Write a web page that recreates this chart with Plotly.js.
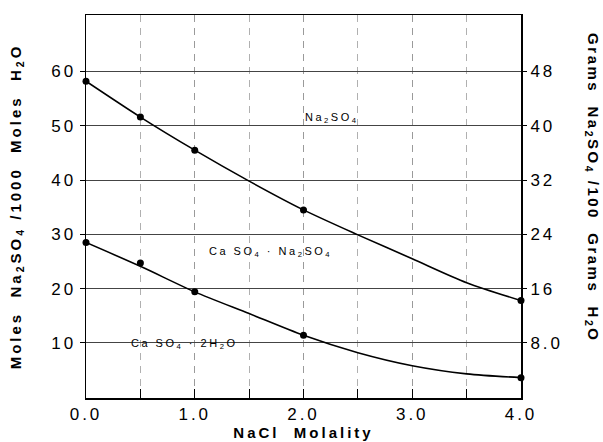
<!DOCTYPE html>
<html>
<head>
<meta charset="utf-8">
<script src="https://cdn.plot.ly/plotly-3.0.1.min.js"></script>
<style>
  html, body { margin: 0; padding: 0; background: #fff; }
  #chart { width: 603px; height: 442px; }
  .xtick text, .ytick text, .y2tick text { letter-spacing: 3px; }
  .xtitle, .ytitle { letter-spacing: 3px; }
  .annotation-text { letter-spacing: 2.5px; }
</style>
</head>
<body>
<div id="chart"></div>
<script>
// NaCl molality of measured points
const nacl = [0, 0.5, 1.0, 2.0, 4.0];
// Measured solubility points (moles Na2SO4 / 1000 moles H2O)
const na2so4Boundary = [58.2, 51.6, 45.5, 34.5, 17.8];
const gypsumBoundary = [28.5, 24.7, 19.4, 11.4, 3.6];
// Drawn curves
const curveX = [0, 0.5, 1.0, 1.5, 2.0, 2.5, 3.0, 3.5, 4.0];
const upperCurve = [58.2, 51.6, 45.5, 39.8, 34.5, 29.9, 25.5, 21.1, 17.8];
const lowerCurve = [28.5, 24.1, 19.4, 15.4, 11.4, 8.2, 5.8, 4.3, 3.6];
// Tick labels
const xTickVals = [0, 1, 2, 3, 4];
const xTickText = ['0.0', '1.0', '2.0', '3.0', '4.0'];
const yTickVals = [10, 20, 30, 40, 50, 60];
const yTickText = ['10', '20', '30', '40', '50', '60'];
const y2TickVals = [8, 16, 24, 32, 40, 48];
const y2TickText = ['8.0', '16', '24', '32', '40', '48'];
// Field labels
const fieldLabels = ['Na<sub>2</sub>SO<sub>4</sub>', 'Ca SO<sub>4</sub> · Na<sub>2</sub>SO<sub>4</sub>', 'Ca SO<sub>4</sub> · 2H<sub>2</sub>O'];
const fieldX = [2.262, 1.70, 0.90];
const fieldY = [51.4, 26.7, 9.8];

const FONT = 'Liberation Sans, Arial, sans-serif';
const lineStyle = {color: '#000', width: 1.6, shape: 'spline', smoothing: 0.8};
const markerStyle = {color: '#000', size: 7};

const traces = [
  {x: curveX, y: upperCurve, mode: 'lines', line: lineStyle, hoverinfo: 'skip', showlegend: false},
  {x: curveX, y: lowerCurve, mode: 'lines', line: lineStyle, hoverinfo: 'skip', showlegend: false},
  {x: nacl, y: na2so4Boundary, mode: 'markers', marker: markerStyle, cliponaxis: false, showlegend: false},
  {x: nacl, y: gypsumBoundary, mode: 'markers', marker: markerStyle, cliponaxis: false, showlegend: false},
  {x: [0], y: [0], yaxis: 'y2', mode: 'markers', marker: {opacity: 0}, hoverinfo: 'skip', showlegend: false}
];

const annotations = fieldLabels.map((t, i) => ({
  text: t, x: fieldX[i], y: fieldY[i], xref: 'x', yref: 'y',
  showarrow: false, xanchor: 'center', yanchor: 'middle',
  font: {family: FONT, size: 11, color: '#000'}
}));
annotations.push({
  text: '<b>Grams  Na<sub>2</sub>SO<sub>4</sub> /100  Grams  H<sub>2</sub>O</b>',
  xref: 'paper', yref: 'paper', x: 1.1655, y: 0.548, textangle: 90,
  showarrow: false, xanchor: 'center', yanchor: 'middle',
  font: {family: FONT, size: 15, color: '#000'}
});

const layout = {
  width: 603, height: 442,
  margin: {l: 86, r: 82, t: 15, b: 44},
  paper_bgcolor: '#fff', plot_bgcolor: '#fff',
  showlegend: false,
  font: {family: FONT, color: '#000'},
  xaxis: {
    range: [0, 4], tickvals: xTickVals, ticktext: xTickText,
    showline: true, mirror: true, linecolor: '#000', linewidth: 1.5,
    ticks: 'inside', ticklen: 9, tickcolor: '#000',
    showgrid: true, gridcolor: '#9a9a9a', gridwidth: 1, griddash: '7px,6px',
    minor: {dtick: 0.5, tick0: 0, showgrid: true, gridcolor: '#b0b0b0', gridwidth: 1, griddash: '7px,6px', ticks: 'inside', ticklen: 9, tickcolor: '#000'},
    zeroline: false,
    tickfont: {family: FONT, size: 17, color: '#000'},
    title: {text: '<b>NaCl  Molality</b>', font: {family: FONT, size: 15, color: '#000'}, standoff: 4}
  },
  yaxis: {
    range: [-0.15, 70.4], tickvals: yTickVals, ticktext: yTickText,
    showline: true, mirror: true, linecolor: '#000', linewidth: 1.5,
    ticks: 'outside', ticklen: 5, tickcolor: '#000',
    showgrid: true, gridcolor: '#444', gridwidth: 1,
    zeroline: false,
    tickfont: {family: FONT, size: 17, color: '#000'},
    title: {text: '<b>Moles  Na<sub>2</sub>SO<sub>4</sub> /1000  Moles  H<sub>2</sub>O</b>', font: {family: FONT, size: 15, color: '#000'}, standoff: 26}
  },
  yaxis2: {
    overlaying: 'y', side: 'right',
    range: [-0.12, 56.32], tickvals: y2TickVals, ticktext: y2TickText,
    showline: false, ticks: 'outside', ticklen: 5, tickcolor: '#000',
    showgrid: false, zeroline: false,
    tickfont: {family: FONT, size: 17, color: '#000'}
  },
  annotations: annotations
};

Plotly.newPlot('chart', traces, layout, {staticPlot: true, displayModeBar: false});
</script>
</body>
</html>
